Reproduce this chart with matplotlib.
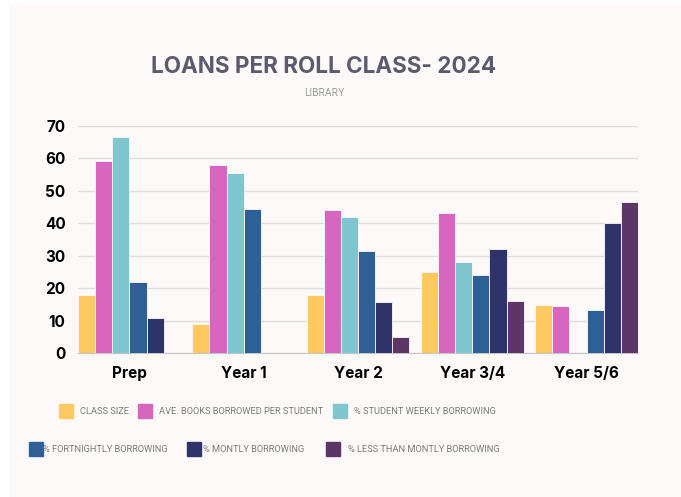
import matplotlib.pyplot as plt
import numpy as np
from matplotlib.patches import Rectangle

classes = ['Prep', 'Year 1', 'Year 2', 'Year 3/4', 'Year 5/6']

class_size = [18, 9, 18, 25, 15]
ave_books = [59, 58, 44, 43, 14.6]
weekly = [66.5, 55.4, 42, 28, np.nan]
fortnightly = [22, 44.3, 31.4, 24, 13.2]
monthly = [11, np.nan, 15.7, 32, 40]
less_monthly = [np.nan, np.nan, 5.1, 16, 46.6]

series = [class_size, ave_books, weekly, fortnightly, monthly, less_monthly]
labels = ['CLASS SIZE', 'AVE. BOOKS BORROWED PER STUDENT', '% STUDENT WEEKLY BORROWING',
          '% FORTNIGHTLY BORROWING', '% MONTLY BORROWING', '% LESS THAN MONTLY BORROWING']
colors = ['#FFC962', '#D766BE', '#7EC5CE', '#2E6097', '#2F336B', '#5C3666']

bg = '#fdf9f8'
fig = plt.figure(figsize=(6.81, 4.97), dpi=100)
fig.patch.set_facecolor('white')
fig.patches.append(Rectangle((10/681, 0), 1, 1 - 5/497, transform=fig.transFigure,
                             color=bg, zorder=-10))

ax = fig.add_axes([78/681, 1 - 353.3/497, 560/681, 227.6/497])
ax.set_facecolor(bg)

x = np.arange(len(classes))
w = 0.15
for i, (vals, col) in enumerate(zip(series, colors)):
    ax.bar(x - 0.375 + i * w, vals, width=w, color=col, edgecolor=bg, linewidth=0.6, zorder=3)

ax.set_xlim(-0.45, 4.45)
ax.set_ylim(0, 70)
ax.set_yticks(range(0, 71, 10))
ax.yaxis.grid(True, color='#dedede', linewidth=1, zorder=0)
for s in ['top', 'right', 'left']:
    ax.spines[s].set_visible(False)
ax.spines['bottom'].set_color('#c4c4c4')
ax.tick_params(length=0)
ax.set_xticks(x)
ax.set_xticklabels(classes, fontsize=11, fontweight='bold', family='Inter')
ax.tick_params(axis='x', pad=9)
ax.tick_params(axis='y', pad=9)
for t in ax.get_yticklabels():
    t.set_fontsize(11)
    t.set_fontweight('bold')
    t.set_family('Inter')

fig.text(324/681, 1 - 67/497, 'LOANS PER ROLL CLASS- 2024', ha='center', va='center',
         fontsize=16.2, fontweight='bold', color='#5b5b6d', family='Inter')
fig.text(324/681, 1 - 93/497, 'LIBRARY', ha='center', va='center',
         fontsize=7, color='#999999', family='Inter')

# legend, drawn by hand in two rows
leg_pos = [(59, 411, 80), (138, 411, 159), (333, 411, 354),
           (29, 449, 43), (187, 449, 203), (326, 449, 348)]
for (sx, sy, tx), lab, col in zip(leg_pos, labels, colors):
    fig.patches.append(Rectangle((sx/681, 1 - (sy + 7)/497), 14/681, 14/497,
                                 transform=fig.transFigure, color=col))
    fig.text(tx/681, 1 - sy/497, lab, ha='left', va='center', fontsize=6.7,
             color='#7a7a7a', family='Roboto')

fig.savefig('out.png', dpi=100, facecolor=fig.get_facecolor())
